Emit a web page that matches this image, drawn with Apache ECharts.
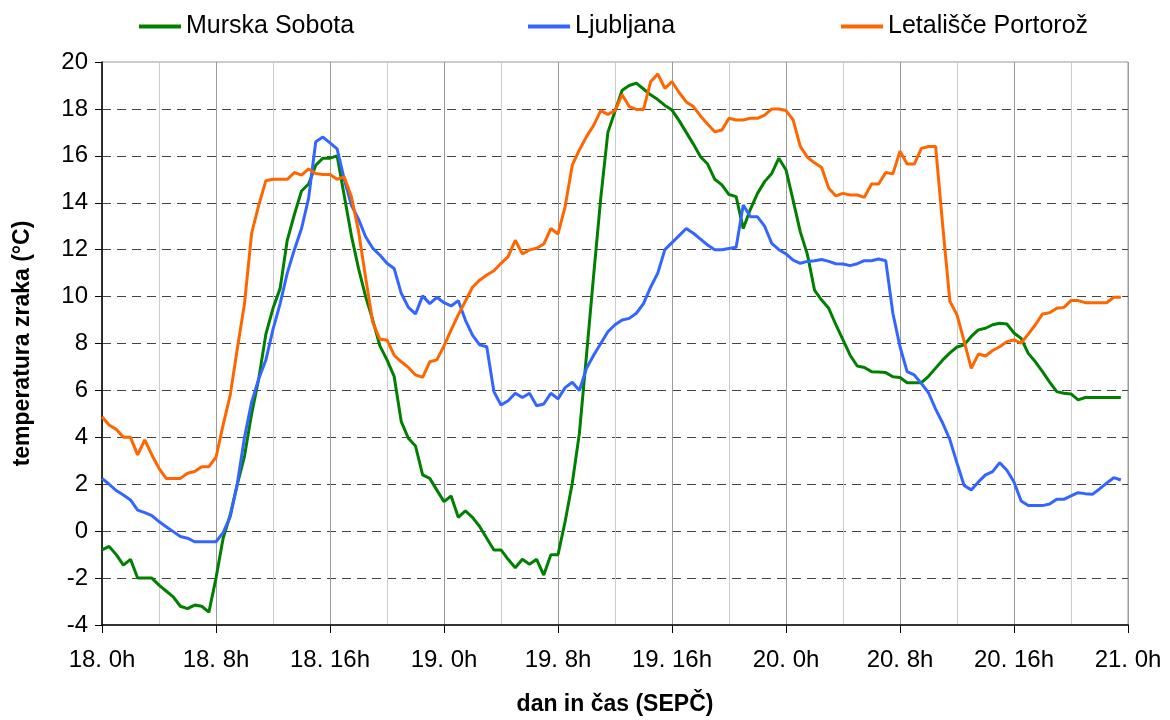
<!DOCTYPE html>
<html>
<head>
<meta charset="utf-8">
<script src="https://cdn.jsdelivr.net/npm/echarts@6/dist/echarts.min.js"></script>
<style>
html,body{margin:0;padding:0;background:#fff;}
#chart{width:1170px;height:720px;}
</style>
</head>
<body>
<div id="chart"></div>
<script>
// Half-hourly samples, hours since 18 Sept 0h
const hours = Array.from({length: 144}, (_, i) => i * 0.5);

const seriesNames = ['Murska Sobota', 'Ljubljana', 'Letališče Portorož'];

const murskaSobota = [
  -0.8,-0.65,-1.0,-1.45,-1.2,-2.0,-2.0,-2.0,-2.3,-2.55,-2.8,-3.2,-3.3,-3.15,-3.2,-3.45,
  -2.0,-0.3,0.7,2.0,3.2,5.0,6.5,8.4,9.5,10.35,12.4,13.5,14.5,14.8,15.6,15.9,
  15.9,16.0,14.3,12.6,11.2,10.0,9.0,7.9,7.3,6.6,4.67,3.96,3.63,2.4,2.25,1.75,
  1.26,1.5,0.59,0.86,0.59,0.2,-0.3,-0.8,-0.8,-1.2,-1.56,-1.2,-1.41,-1.2,-1.87,-1.0,
  -1.0,0.41,2.04,4.17,7.5,10.9,14.2,17.0,17.9,18.8,19.0,19.1,18.85,18.6,18.4,18.15,
  17.95,17.5,17.0,16.5,15.96,15.65,15.0,14.76,14.35,14.26,12.9,13.72,14.4,14.9,15.25,15.9,
  15.4,14.1,12.77,11.8,10.28,9.85,9.5,8.8,8.15,7.5,7.04,6.98,6.8,6.78,6.76,6.58,
  6.55,6.33,6.33,6.33,6.6,6.95,7.3,7.6,7.85,7.94,8.3,8.58,8.65,8.8,8.86,8.83,
  8.45,8.22,7.58,7.22,6.8,6.35,5.95,5.88,5.85,5.6,5.7,5.7,5.7,5.7,5.7,5.7
];

const ljubljana = [
  2.25,2.0,1.73,1.54,1.33,0.9,0.79,0.66,0.41,0.19,-0.02,-0.23,-0.3,-0.45,-0.45,-0.45,
  -0.45,-0.06,0.62,2.04,4.0,5.5,6.5,7.3,8.6,9.7,11.0,12.0,12.9,14.2,16.6,16.8,
  16.55,16.3,15.0,13.9,13.3,12.55,12.06,11.77,11.42,11.2,10.14,9.54,9.26,10.03,9.7,9.97,
  9.74,9.6,9.83,9.0,8.36,7.94,7.86,5.95,5.38,5.56,5.88,5.7,5.88,5.35,5.42,5.88,
  5.64,6.12,6.35,6.0,6.94,7.5,8.0,8.5,8.8,9.0,9.07,9.29,9.7,10.4,11.0,12.0,
  12.3,12.6,12.9,12.7,12.45,12.2,12.0,12.0,12.05,12.1,13.9,13.4,13.4,13.0,12.27,12.0,
  11.82,11.55,11.42,11.5,11.53,11.58,11.5,11.4,11.39,11.32,11.4,11.53,11.53,11.6,11.53,9.29,
  7.86,6.8,6.66,6.3,5.9,5.2,4.6,3.9,2.9,1.95,1.76,2.1,2.4,2.54,2.92,2.6,
  2.1,1.29,1.09,1.09,1.09,1.16,1.36,1.36,1.5,1.64,1.6,1.57,1.8,2.05,2.28,2.18
];

const portoroz = [
  4.88,4.53,4.34,4.0,4.0,3.25,3.89,3.25,2.68,2.25,2.25,2.25,2.47,2.54,2.75,2.75,
  3.15,4.53,5.81,7.8,9.7,12.7,13.9,14.94,15.0,15.0,15.0,15.29,15.18,15.44,15.25,15.2,
  15.2,15.0,15.1,14.26,12.8,10.8,8.9,8.18,8.15,7.5,7.22,6.98,6.66,6.56,7.22,7.3,
  7.9,8.58,9.22,9.8,10.4,10.7,10.92,11.1,11.42,11.7,12.4,11.82,11.99,12.06,12.24,12.9,
  12.67,13.84,15.6,16.25,16.82,17.3,17.93,17.77,17.93,18.6,18.1,17.98,17.98,19.16,19.49,18.88,
  19.16,18.7,18.3,18.1,17.7,17.35,17.03,17.1,17.6,17.53,17.53,17.6,17.6,17.74,18.0,18.0,
  17.93,17.53,16.4,15.94,15.7,15.5,14.62,14.29,14.4,14.33,14.33,14.23,14.8,14.8,15.29,15.23,
  16.2,15.65,15.65,16.32,16.4,16.4,13.0,9.8,9.22,8.1,6.94,7.55,7.47,7.7,7.86,8.08,
  8.15,8.02,8.4,8.8,9.26,9.31,9.5,9.54,9.83,9.83,9.74,9.74,9.74,9.74,9.97,9.97
];

const xTickLabels = ['18. 0h','18. 8h','18. 16h','19. 0h','19. 8h','19. 16h','20. 0h','20. 8h','20. 16h','21. 0h'];

const colors = ['#008000', '#3366FF', '#FF6600'];
const FONT = "'Liberation Sans', Arial, sans-serif";

const chart = echarts.init(document.getElementById('chart'), null, {renderer: 'canvas'});

const allSeries = [murskaSobota, ljubljana, portoroz];
const legendLefts = [134, 523, 836];

const option = {
  animation: false,
  textStyle: {fontFamily: FONT},
  legend: seriesNames.map((n, i) => ({
    data: [n],
    left: legendLefts[i],
    top: 9,
    icon: 'rect',
    itemWidth: 42,
    itemHeight: 4,
    itemGap: 0,
    textStyle: {fontSize: 25, color: '#000', fontFamily: FONT, padding: [0, 0, 0, 0]}
  })),
  grid: {
    left: 102, right: 42, top: 62, bottom: 95,
    containLabel: false,
    outerBoundsMode: 'none',
    show: true, borderColor: '#999', borderWidth: 1, backgroundColor: '#fff'
  },
  xAxis: {
    type: 'value',
    min: 0, max: 72, interval: 8,
    name: 'dan in čas (SEPČ)',
    nameLocation: 'middle',
    nameGap: 68,
    nameTextStyle: {fontSize: 23, fontWeight: 'bold', color: '#000', fontFamily: FONT},
    axisLine: {show: true, onZero: false, lineStyle: {color: '#000', width: 1.5}},
    axisTick: {show: true, inside: false, length: 8, lineStyle: {color: '#000', width: 1}},
    axisLabel: {
      fontSize: 24, color: '#000', margin: 23, fontFamily: FONT,
      formatter: v => xTickLabels[Math.round(v / 8)]
    },
    splitLine: {show: true, lineStyle: {color: '#9a9a9a', width: 1}},
    minorTick: {show: false, splitNumber: 2},
    minorSplitLine: {show: true, lineStyle: {color: '#cccccc', width: 1}}
  },
  yAxis: {
    type: 'value',
    min: -4, max: 20, interval: 2,
    name: 'temperatura zraka (°C)',
    nameLocation: 'middle',
    nameGap: 68,
    nameTextStyle: {fontSize: 23, fontWeight: 'bold', color: '#000', fontFamily: FONT},
    axisLine: {show: true, onZero: false, lineStyle: {color: '#000', width: 1.5}},
    axisTick: {show: true, inside: false, length: 7, lineStyle: {color: '#000', width: 1}},
    axisLabel: {fontSize: 24, color: '#000', margin: 14, fontFamily: FONT},
    splitLine: {
      show: true, showMinLine: false, showMaxLine: false,
      lineStyle: {color: '#444', width: 1, type: [9, 6]}
    }
  },
  series: seriesNames.map((n, i) => ({
    name: n,
    type: 'line',
    data: hours.map((h, k) => [h, allSeries[i][k]]),
    showSymbol: false,
    symbol: 'none',
    smooth: false,
    lineStyle: {color: colors[i], width: 3},
    itemStyle: {color: colors[i]},
    z: 3 + i
  }))
};

chart.setOption(option);
</script>
</body>
</html>
